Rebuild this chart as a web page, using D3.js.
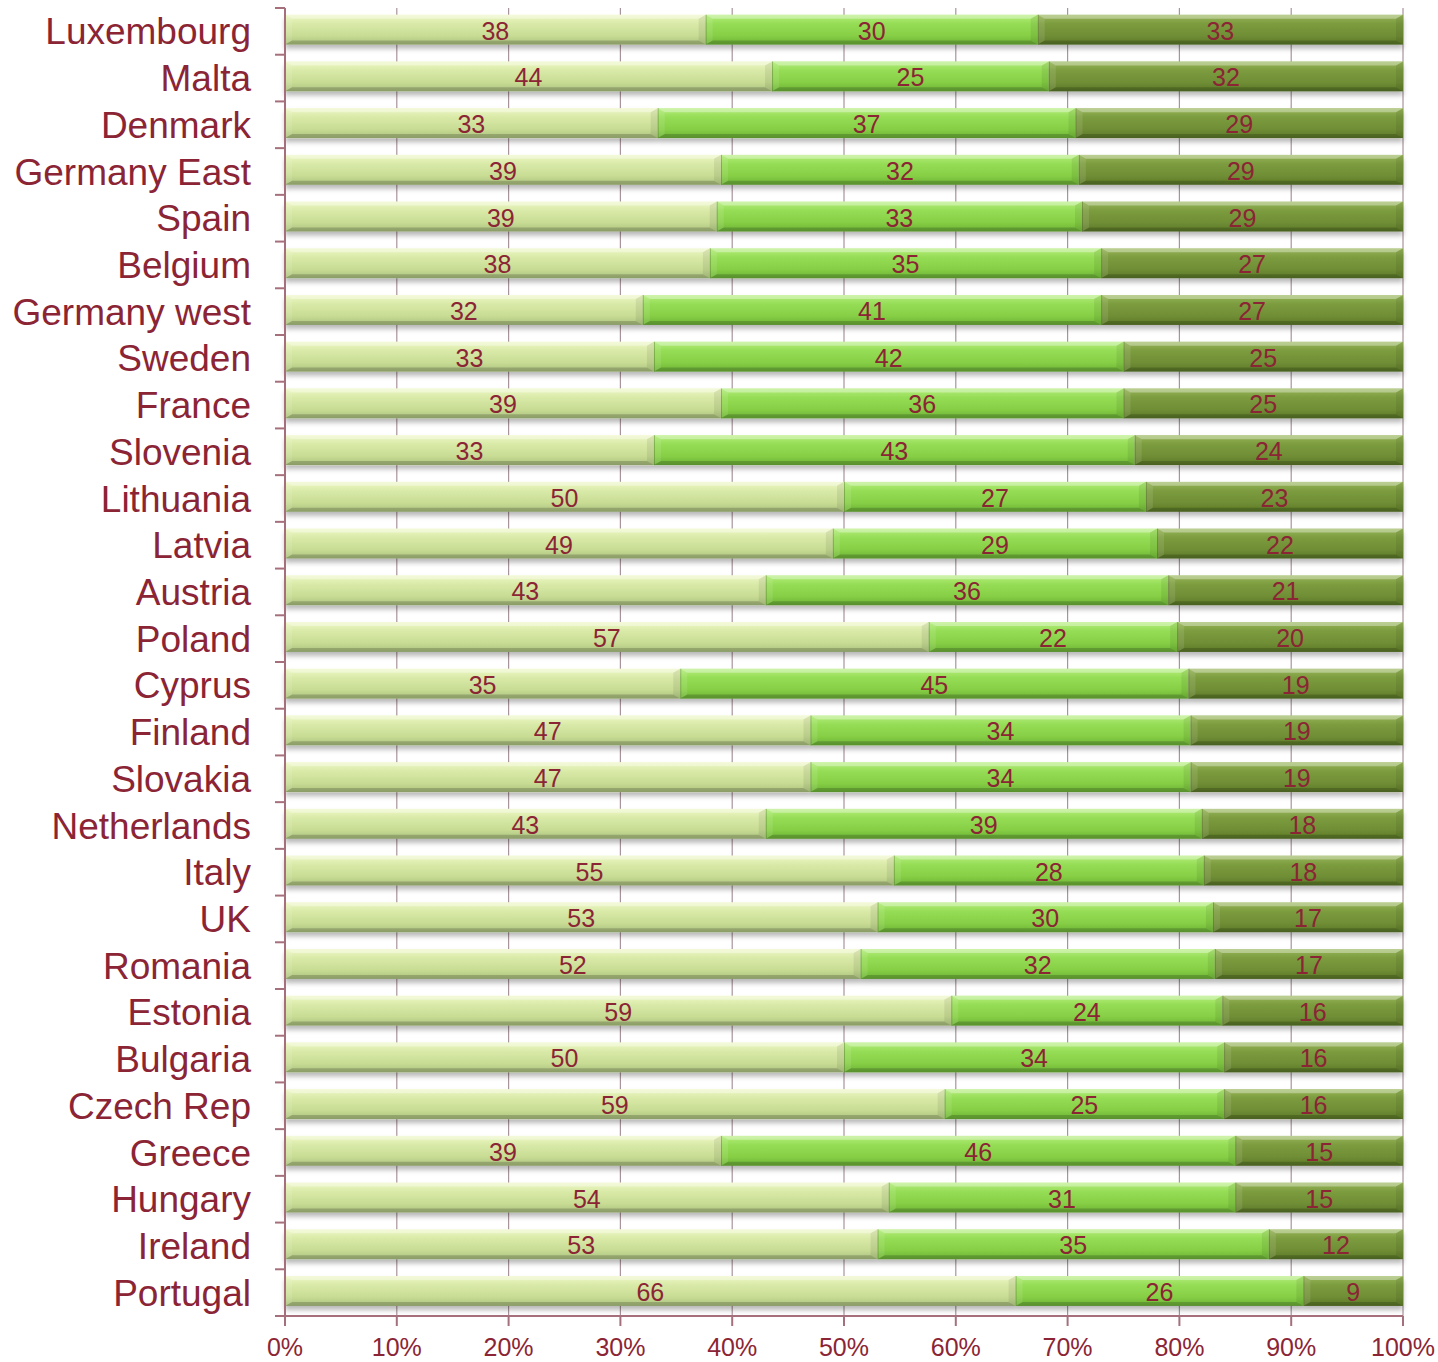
<!DOCTYPE html>
<html>
<head>
<meta charset="utf-8">
<script src="https://cdn.jsdelivr.net/npm/d3@7"></script>
<style>
  html, body { margin: 0; padding: 0; background: #ffffff; }
  svg { display: block; }
</style>
</head>
<body>
<div id="chart"></div>
<script>
const countries = ["Luxembourg","Malta","Denmark","Germany East","Spain","Belgium","Germany west","Sweden","France","Slovenia","Lithuania","Latvia","Austria","Poland","Cyprus","Finland","Slovakia","Netherlands","Italy","UK","Romania","Estonia","Bulgaria","Czech Rep","Greece","Hungary","Ireland","Portugal"];
const series1 = [38,44,33,39,39,38,32,33,39,33,50,49,43,57,35,47,47,43,55,53,52,59,50,59,39,54,53,66];
const series2 = [30,25,37,32,33,35,41,42,36,43,27,29,36,22,45,34,34,39,28,30,32,24,34,25,46,31,35,26];
const series3 = [33,32,29,29,29,27,27,25,25,24,23,22,21,20,19,19,19,18,18,17,17,16,16,16,15,15,12,9];
const tickValues = [0,0.1,0.2,0.3,0.4,0.5,0.6,0.7,0.8,0.9,1.0];

(function () {
const W = 1438, H = 1362;
const mLeft = 285, mRight = 1403, mTop = 8, mBottom = 1316;
const textColor = "#8b2535";
const fontFam = "'Liberation Sans', Arial, sans-serif";

const svg = d3.select("#chart").append("svg").attr("width", W).attr("height", H);
const defs = svg.append("defs");

const palettes = [
  ["#eef7c6", "#d9eaa8", "#c8dc94", "#abc17e"],
  ["#b4ee7c", "#96dd56", "#86cf45", "#6cb236"],
  ["#98b65a", "#7c9c3f", "#708e35", "#5b7828"]
];
palettes.forEach((p, i) => {
  const g = defs.append("linearGradient").attr("id", "grad" + i)
    .attr("x1", 0).attr("y1", 0).attr("x2", 0).attr("y2", 1);
  g.append("stop").attr("offset", "0%").attr("stop-color", p[0]);
  g.append("stop").attr("offset", "30%").attr("stop-color", p[1]);
  g.append("stop").attr("offset", "70%").attr("stop-color", p[2]);
  g.append("stop").attr("offset", "100%").attr("stop-color", p[3]);
});
const f = defs.append("filter").attr("id", "shadow").attr("x", "-5%").attr("y", "-30%").attr("width", "110%").attr("height", "180%");
f.append("feDropShadow").attr("dx", 0).attr("dy", 4).attr("stdDeviation", 2.5)
  .attr("flood-color", "#000").attr("flood-opacity", 0.28);

const x = d3.scaleLinear().domain([0, 1]).range([mLeft, mRight]);
const y = d3.scaleBand().domain(countries).range([mTop, mBottom])
  .paddingInner(0.36).paddingOuter(0.18).align(0.4);
const yBand = d3.scaleBand().domain(countries).range([mTop, mBottom]).padding(0);

// gridlines
svg.append("g").selectAll("line").data(tickValues).join("line")
  .attr("x1", d => x(d)).attr("x2", d => x(d))
  .attr("y1", mTop).attr("y2", mBottom)
  .attr("stroke", "#a8949c").attr("stroke-width", 1.2);

// stacked data
const rows = countries.map((c, i) => ({ country: c, v: [series1[i], series2[i], series3[i]] }));
const stackData = rows.map(r => {
  const tot = d3.sum(r.v);
  let acc = 0;
  return r.v.map((v, k) => {
    const s = { country: r.country, k, value: v, x0: acc / tot, x1: (acc + v) / tot };
    acc += v;
    return s;
  });
});

const barsG = svg.append("g");
stackData.forEach(row => {
  const bg = barsG.append("g").attr("filter", "url(#shadow)");
  row.forEach(s => {
    const x0 = x(s.x0), x1 = x(s.x1);
    const y0 = y(s.country), y1 = y(s.country) + y.bandwidth();
    const bx = 7, by = 4;
    const g = bg.append("g");
    g.append("rect").attr("x", x0).attr("y", y0).attr("width", x1 - x0).attr("height", y1 - y0)
      .attr("fill", `url(#grad${s.k})`);
    g.append("polygon").attr("points", [[x0,y0],[x1,y0],[x1-bx,y0+by],[x0+bx,y0+by]].join(" "))
      .attr("fill", "#ffffff").attr("opacity", 0.35);
    g.append("polygon").attr("points", [[x0,y1],[x1,y1],[x1-bx,y1-by],[x0+bx,y1-by]].join(" "))
      .attr("fill", "#000000").attr("opacity", 0.18);
    g.append("polygon").attr("points", [[x0,y0],[x0+bx,y0+by],[x0+bx,y1-by],[x0,y1]].join(" "))
      .attr("fill", "#ffffff").attr("opacity", 0.1);
    g.append("polygon").attr("points", [[x1,y0],[x1-bx,y0+by],[x1-bx,y1-by],[x1,y1]].join(" "))
      .attr("fill", "#000000").attr("opacity", 0.07);
    g.append("line").attr("x1", x0 + 0.5).attr("x2", x0 + 0.5).attr("y1", y0).attr("y2", y1)
      .attr("stroke", "#3e5a1c").attr("stroke-opacity", 0.35).attr("stroke-width", 1);
  });
});

// data labels
const labels = svg.append("g");
stackData.forEach(row => {
  row.forEach(s => {
    labels.append("text")
      .attr("x", (x(s.x0) + x(s.x1)) / 2)
      .attr("y", y(s.country) + y.bandwidth() / 2 + 10)
      .attr("text-anchor", "middle")
      .attr("font-family", fontFam).attr("font-size", 25)
      .attr("fill", textColor)
      .text(s.value);
  });
});

// left axis
const axisColor = "#a5707c";
const la = svg.append("g");
la.append("line").attr("x1", mLeft).attr("x2", mLeft).attr("y1", mTop).attr("y2", mBottom)
  .attr("stroke", axisColor).attr("stroke-width", 2);
const bounds = countries.map(c => yBand(c)).concat([mBottom]);
la.selectAll("line.t").data(bounds).join("line").attr("class", "t")
  .attr("x1", mLeft - 10).attr("x2", mLeft).attr("y1", d => d).attr("y2", d => d)
  .attr("stroke", axisColor).attr("stroke-width", 2);
la.selectAll("text").data(countries).join("text")
  .attr("x", mLeft - 34)
  .attr("y", d => yBand(d) + yBand.bandwidth() / 2 + 13)
  .attr("text-anchor", "end")
  .attr("font-family", fontFam).attr("font-size", 37)
  .attr("fill", textColor)
  .text(d => d);

// bottom axis
const ba = svg.append("g");
ba.append("line").attr("x1", mLeft).attr("x2", mRight).attr("y1", mBottom).attr("y2", mBottom)
  .attr("stroke", axisColor).attr("stroke-width", 2);
ba.selectAll("line.t").data(tickValues).join("line").attr("class", "t")
  .attr("x1", d => x(d)).attr("x2", d => x(d)).attr("y1", mBottom).attr("y2", mBottom + 10)
  .attr("stroke", axisColor).attr("stroke-width", 2);
ba.selectAll("text").data(tickValues).join("text")
  .attr("x", d => x(d)).attr("y", 1356)
  .attr("text-anchor", "middle")
  .attr("font-family", fontFam).attr("font-size", 25)
  .attr("fill", textColor)
  .text(d => d3.format(".0%")(d));
})();
</script>
</body>
</html>
